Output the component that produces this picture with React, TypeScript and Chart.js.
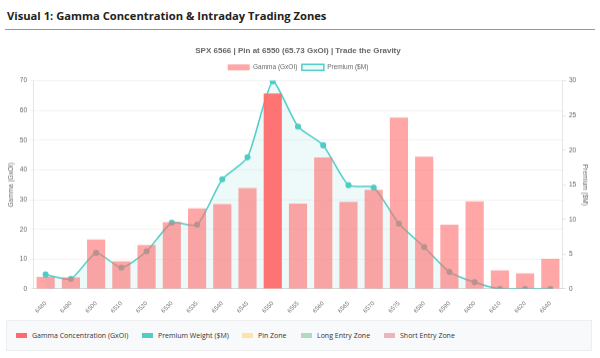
import React, { useEffect, useRef } from "react";
import { Chart, registerables } from "chart.js";

Chart.register(...registerables);

const strikes = ["6480", "6490", "6500", "6510", "6520", "6530", "6535", "6540", "6545", "6550", "6555", "6560", "6565", "6570", "6575", "6580", "6590", "6600", "6610", "6620", "6640"];
const gammaValues = [4.0, 3.9, 16.6, 9.3, 14.8, 22.4, 27.1, 28.5, 33.9, 65.73, 28.7, 44.2, 29.3, 33.3, 57.6, 44.5, 21.6, 29.4, 6.2, 5.2, 10.1];
const premiumValues = [2.07, 1.44, 5.18, 3.07, 5.42, 9.54, 9.25, 15.8, 18.97, 29.9, 23.4, 20.7, 14.95, 14.6, 9.4, 6.04, 2.44, 0.96, 0, 0, 0];
const pinStrike = "6550";
const chartTitle = "SPX 6566 | Pin at 6550 (65.73 GxOI) | Trade the Gravity";
const headerTitle = "Visual 1: Gamma Concentration & Intraday Trading Zones";
const legendLabels = ["Gamma Concentration (GxOI)", "Premium Weight ($M)", "Pin Zone", "Long Entry Zone", "Short Entry Zone"];
const legendColors = ["#FF6B6B", "#4ECDC4", "rgba(255,193,7,0.35)", "rgba(40,167,69,0.35)", "rgba(220,53,69,0.35)"];
const legendItemLeft = [9, 135, 235, 294, 377];

function GammaChart() {
  const ref = useRef<HTMLCanvasElement | null>(null);
  useEffect(() => {
    if (!ref.current) return;
    const chart = new Chart(ref.current, {
      type: "bar",
      data: {
        labels: strikes,
        datasets: [
          {
            type: "bar",
            label: "Gamma (GxOI)",
            data: gammaValues,
            yAxisID: "y",
            backgroundColor: (ctx: any) =>
              ctx.dataIndex !== undefined && strikes[ctx.dataIndex] === pinStrike
                ? "rgba(255,107,107,0.95)"
                : "rgba(255,107,107,0.6)",
            borderWidth: 0,
          },
          {
            type: "line",
            label: "Premium ($M)",
            data: premiumValues,
            yAxisID: "y1",
            borderColor: "#4ECDC4",
            backgroundColor: "rgba(78,205,196,0.1)",
            fill: "origin",
            tension: 0.2,
            borderWidth: 1.5,
            pointRadius: 2.3,
            pointBackgroundColor: "#4ECDC4",
            pointBorderColor: "#4ECDC4",
          },
        ],
      } as any,
      options: {
        animation: false,
        responsive: true,
        maintainAspectRatio: false,
        layout: { padding: { left: 0, right: 0, top: 0, bottom: 0 } },
        plugins: {
          title: {
            display: true,
            text: chartTitle,
            color: "#666",
            font: { size: 8, weight: "bold" },
            padding: { top: 8, bottom: 4 },
          },
          legend: {
            display: true,
            labels: {
              boxWidth: 22,
              boxHeight: 6,
              font: { size: 6.5 },
              color: "#666",
              padding: 4.5,
            },
          },
          tooltip: { enabled: false },
        },
        scales: {
          x: {
            grid: { display: false },
            ticks: { maxRotation: 45, minRotation: 45, font: { size: 6 }, color: "#777" },
          },
          y: {
            position: "left",
            min: 0,
            max: 70,
            ticks: { stepSize: 10, font: { size: 6.5 }, color: "#666" },
            grid: { color: "rgba(0,0,0,0.05)", tickLength: 3 },
            title: { display: true, text: "Gamma (GxOI)", font: { size: 6.5 }, color: "#666", padding: { top: 2, bottom: 2 } },
          },
          y1: {
            position: "right",
            min: 0,
            max: 30,
            ticks: { stepSize: 5, font: { size: 6.5 }, color: "#666" },
            grid: { drawOnChartArea: false, tickLength: 3 },
            title: { display: true, text: "Premium ($M)", font: { size: 6.5 }, color: "#666", padding: { top: 2, bottom: 2 } },
          },
        },
      } as any,
    });
    return () => chart.destroy();
  }, []);
  return (
    <div style={{ position: "relative", width: 586, height: 278.5, marginLeft: 5 }}>
      <canvas ref={ref} />
    </div>
  );
}

export default function App() {
  return (
    <div style={{ width: 600, height: 358, background: "#fff", fontFamily: "'Open Sans', sans-serif", position: "relative", overflow: "hidden" }}>
      <style>{`body{margin:0;}`}</style>
      <div
        style={{
          position: "absolute",
          left: 5,
          top: 0,
          width: 590,
          height: 30,
          borderBottom: "1px solid #999",
          boxSizing: "border-box",
        }}
      >
        <div style={{ position: "absolute", left: 2, top: 8, fontSize: 11.2, fontWeight: 700, color: "#222", whiteSpace: "nowrap", lineHeight: "16px" }}>
          {headerTitle}
        </div>
      </div>
      <div style={{ position: "absolute", left: 0, top: 38 }}>
        <GammaChart />
      </div>
      <div
        style={{
          position: "absolute",
          left: 6,
          top: 320,
          width: 586,
          height: 31,
          background: "#f8f9fa",
          border: "1px solid #eceef0",
          boxSizing: "border-box",
        }}
      >
        {legendLabels.map((lab, i) => (
          <div
            key={lab}
            style={{ position: "absolute", left: legendItemLeft[i], top: 0, height: 29, display: "flex", alignItems: "center" }}
          >
            <span style={{ display: "inline-block", width: 11, height: 5.5, background: legendColors[i], marginRight: 5 }} />
            <span style={{ fontSize: 7, color: "#333", whiteSpace: "nowrap" }}>{lab}</span>
          </div>
        ))}
      </div>
    </div>
  );
}
